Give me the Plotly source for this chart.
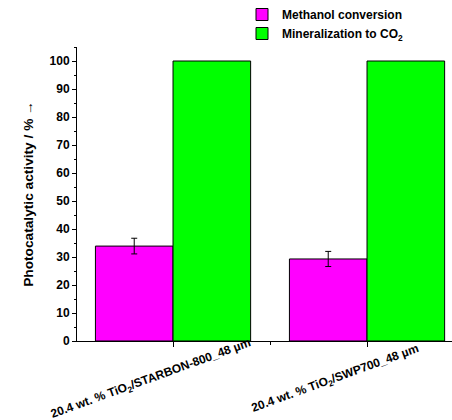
import plotly.graph_objects as go

categories = ["20.4 wt. % TiO<sub>2</sub>/STARBON-800_48 µm", "20.4 wt. % TiO<sub>2</sub>/SWP700_48 µm"]
x_pos = [1, 2]
methanol_conversion = [33.9, 29.3]
methanol_err = [2.8, 2.7]
mineralization = [100, 100]
series_names = ["Methanol conversion", "Mineralization to CO<sub>2</sub>"]
y_ticks = [0, 10, 20, 30, 40, 50, 60, 70, 80, 90, 100]

FONT = "Liberation Sans, Arial, sans-serif"

fig = go.Figure()
fig.add_trace(go.Bar(
    x=x_pos, y=methanol_conversion, name=series_names[0],
    marker=dict(color="#FF00FF", line=dict(color="black", width=1)),
    error_y=dict(type="data", array=methanol_err, color="black", thickness=1, width=3),
))
fig.add_trace(go.Bar(
    x=x_pos, y=mineralization, name=series_names[1],
    marker=dict(color="#00FF00", line=dict(color="black", width=1)),
))

for xv, label, xs, ys in zip(x_pos, categories, [-22, -32], [-38, -38]):
    fig.add_annotation(
        x=xv, xref="x", y=0, yref="paper", text=label, showarrow=False,
        textangle=-20, xshift=xs, yshift=ys, xanchor="center", yanchor="middle",
        font=dict(family=FONT, size=12, color="black", weight="bold"),
    )

fig.update_layout(
    width=452, height=420,
    margin=dict(l=77, r=0, t=45, b=79),
    paper_bgcolor="white", plot_bgcolor="white",
    barmode="group", bargap=0.2, bargroupgap=0,
    font=dict(family=FONT, color="black"),
    showlegend=True,
    legend=dict(
        x=0.44, y=1.16, xanchor="left", yanchor="top",
        font=dict(family=FONT, size=12, color="black", weight="bold"),
        bgcolor="rgba(0,0,0,0)", tracegroupgap=0,
    ),
    xaxis=dict(
        range=[0.505, 2.438], tickvals=x_pos, showticklabels=False,
        ticks="outside", ticklen=5, tickcolor="black", tickwidth=1,
        minor=dict(dtick=0.5, tick0=0, ticks="outside", ticklen=3, tickcolor="black"),
        showline=True, linecolor="black", linewidth=1, showgrid=False, zeroline=False,
    ),
    yaxis=dict(
        range=[0, 105], tickvals=y_ticks,
        ticks="outside", ticklen=4, tickcolor="black", tickwidth=1,
        minor=dict(dtick=5, tick0=0, ticks="outside", ticklen=2, tickcolor="black"),
        tickfont=dict(family=FONT, size=12, color="black", weight="bold"),
        showline=True, linecolor="black", linewidth=1, showgrid=False, zeroline=False,
        title=dict(text="Photocatalytic activity / % →", standoff=12,
                   font=dict(family=FONT, size=13.7, color="black", weight="bold")),
    ),
)

fig.write_html("out.html")
